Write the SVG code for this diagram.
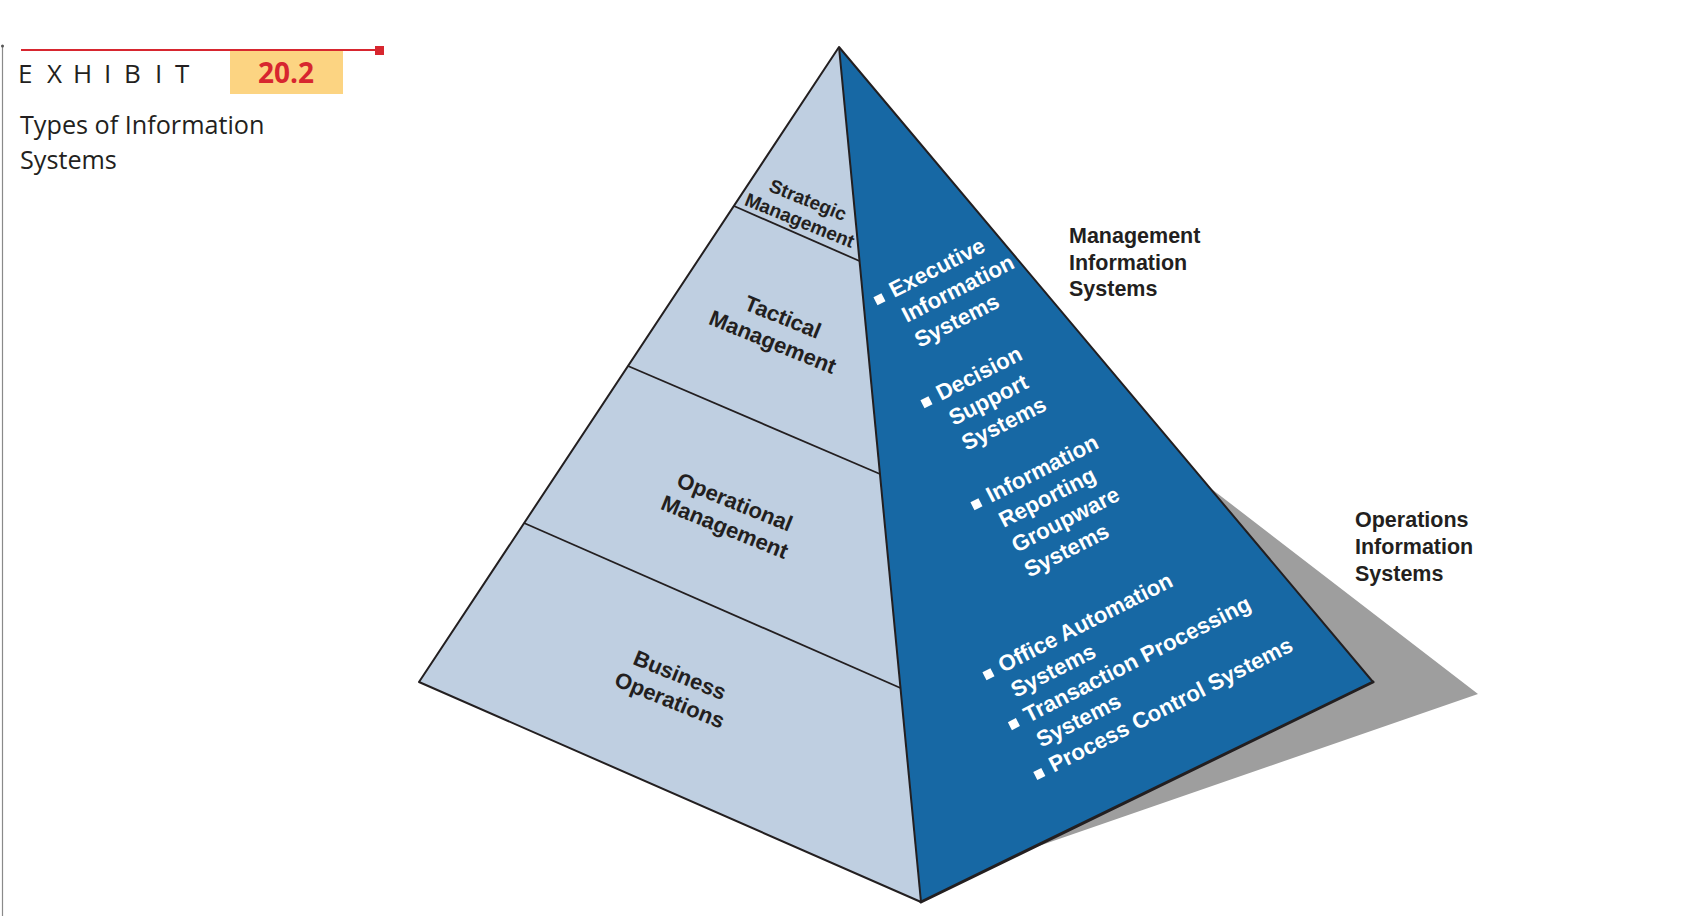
<svg xmlns="http://www.w3.org/2000/svg" width="1696" height="916" viewBox="0 0 1696 916">
<style>
.dk{font-family:"Liberation Sans",Arial,sans-serif;font-weight:bold;fill:#231f20}
.lvl{font-size:22px;text-anchor:middle}
.wt{font-family:"Liberation Sans",Arial,sans-serif;font-weight:bold;font-size:22.3px;fill:#ffffff}
.lbl{font-size:21.5px}
.edge{stroke:#231f20;fill:none;stroke-linejoin:round}
.bul{fill:#ffffff}
.hd{font-family:"Open Sans","Liberation Sans",sans-serif;fill:#231f20}
</style>
<rect width="1696" height="916" fill="#ffffff"/>
<g id="header">
  <line x1="2.5" y1="46" x2="2.5" y2="916" stroke="#8a8a8a" stroke-width="1.2"/>
  <circle cx="2.5" cy="46" r="1.5" fill="#555"/>
  <rect x="230" y="51" width="113" height="43" fill="#fcd482"/>
  <line x1="21" y1="50" x2="378" y2="50" stroke="#d7262f" stroke-width="2"/>
  <rect x="375" y="46" width="9" height="9" fill="#d7262f"/>
  <text class="hd" font-size="26" y="83" x="18 47 73 104 124 155 175">EXHIBIT</text>
  <text x="286" y="83" font-family="'Open Sans','Liberation Sans',sans-serif" font-weight="bold" font-size="28" fill="#d7262f" text-anchor="middle">20.2</text>
  <text class="hd" font-size="25.2" x="20" y="134">Types of Information</text>
  <text class="hd" font-size="25.2" x="20" y="169">Systems</text>
</g>
<g id="shadow">
  <polygon points="1209,487 1478,694 1030,849 1200,650" fill="#9e9e9e"/>
</g>
<g id="pyramid">
  <polygon id="left-face" points="839,47 419,682 921,902" fill="#bfcfe1"/>
  <polygon id="right-face" points="839,47 921,902 1373,682" fill="#1768a4"/>
  <g id="dividers" class="edge" stroke-width="1.8">
    <line x1="734" y1="206" x2="859.5" y2="261"/>
    <line x1="628" y1="366" x2="880" y2="474"/>
    <line x1="524" y1="523" x2="900.5" y2="688"/>
  </g>
  <polyline class="edge" stroke-width="2" points="1373,682 839,47 419,682 921,902"/>
  <line class="edge" stroke-width="2" x1="839" y1="47" x2="921" y2="902"/>
  <line class="edge" stroke-width="3" x1="921" y1="902" x2="1373" y2="682" stroke-linecap="round"/>
</g>
<g id="strategic" transform="translate(805.5,206) rotate(22)">
  <text class="dk" font-size="19" text-anchor="middle"><tspan x="0" y="0">Strategic</tspan><tspan x="0" y="22">Management</tspan></text>
</g>
<g id="tactical" transform="translate(780,324) rotate(22)">
  <text class="dk lvl"><tspan x="0" y="0">Tactical</tspan><tspan x="0" y="27">Management</tspan></text>
</g>
<g id="operational" transform="translate(732,509) rotate(22)">
  <text class="dk lvl"><tspan x="0" y="0">Operational</tspan><tspan x="0" y="27">Management</tspan></text>
</g>
<g id="business" transform="translate(677,682) rotate(22)">
  <text class="dk lvl"><tspan x="0" y="0">Business</tspan><tspan x="0" y="27">Operations</tspan></text>
</g>
<g id="executive" transform="translate(894,298) rotate(-27)">
  <rect class="bul" x="-18" y="-10" width="9" height="9"/>
  <text class="wt"><tspan x="0" y="0">Executive</tspan><tspan x="0" y="28">Information</tspan><tspan x="0" y="56">Systems</tspan></text>
</g>
<g id="decision" transform="translate(941,401) rotate(-27)">
  <rect class="bul" x="-18" y="-10" width="9" height="9"/>
  <text class="wt"><tspan x="0" y="0">Decision</tspan><tspan x="0" y="28">Support</tspan><tspan x="0" y="56">Systems</tspan></text>
</g>
<g id="reporting" transform="translate(991,503) rotate(-27)">
  <rect class="bul" x="-18" y="-10" width="9" height="9"/>
  <text class="wt"><tspan x="0" y="0">Information</tspan><tspan x="0" y="28">Reporting</tspan><tspan x="0" y="56">Groupware</tspan><tspan x="0" y="84">Systems</tspan></text>
</g>
<g id="operations-list" transform="translate(1003,673) rotate(-27)">
  <rect class="bul" x="-18" y="-10" width="9" height="9"/>
  <rect class="bul" x="-18" y="46" width="9" height="9"/>
  <rect class="bul" x="-18" y="102" width="9" height="9"/>
  <text class="wt"><tspan x="0" y="0">Office Automation</tspan><tspan x="0" y="28">Systems</tspan><tspan x="0" y="56">Transaction Processing</tspan><tspan x="0" y="84">Systems</tspan><tspan x="0" y="112">Process Control Systems</tspan></text>
</g>
<g id="mis-label">
  <text class="dk lbl"><tspan x="1069" y="243">Management</tspan><tspan x="1069" y="269.5">Information</tspan><tspan x="1069" y="296">Systems</tspan></text>
</g>
<g id="ois-label">
  <text class="dk lbl"><tspan x="1355" y="527">Operations</tspan><tspan x="1355" y="554">Information</tspan><tspan x="1355" y="581">Systems</tspan></text>
</g>
</svg>
